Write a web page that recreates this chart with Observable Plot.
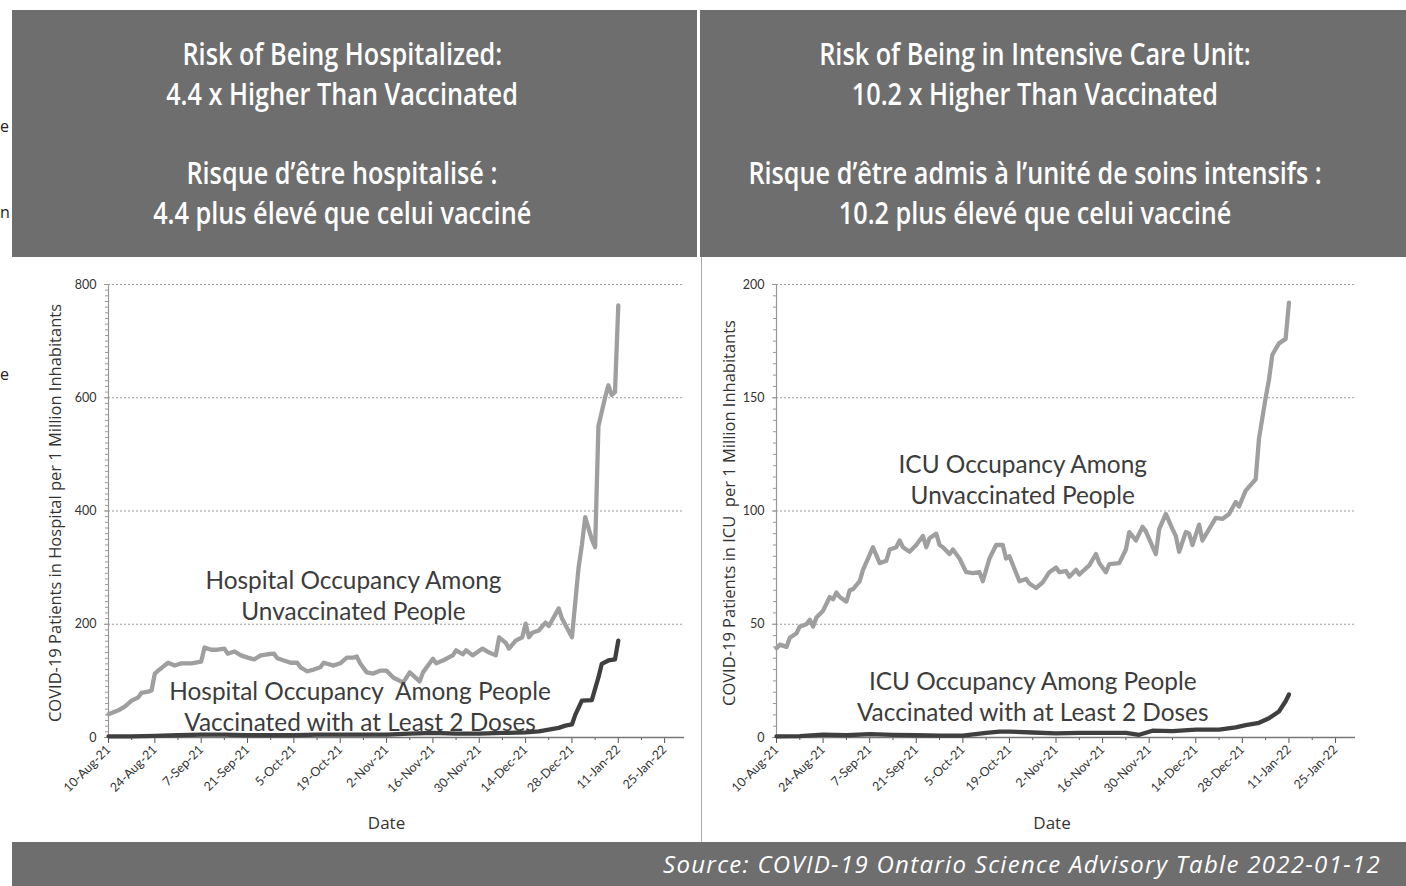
<!DOCTYPE html>
<html>
<head>
<meta charset="utf-8">
<script src="https://cdn.jsdelivr.net/npm/d3@7"></script>
<script src="https://cdn.jsdelivr.net/npm/@observablehq/plot@0.6"></script>
<style>
  html, body { margin: 0; padding: 0; background: #fff; }
  #page { position: relative; width: 1406px; height: 886px; overflow: hidden; background: #fff; }
  .hdr { position: absolute; background: #6e6e6e; color: #fff; display: flex; flex-direction: column; justify-content: center; align-items: center;
         font-family: "Open Sans", "Roboto", sans-serif; font-weight: 600; font-size: 31px; line-height: 39.7px; box-sizing: border-box; }
  .hdr div { white-space: nowrap; }
  .hdr span { display: inline-block; transform-origin: 50% 50%; }
  #footer { position: absolute; left: 12px; top: 842px; width: 1394px; height: 44px; background: #6e6e6e; color: #fff;
            font-family: "Open Sans", sans-serif; font-style: italic; font-size: 24px; letter-spacing: 1.3px; line-height: 44px; text-align: right; box-sizing: border-box; padding-right: 25px; white-space: nowrap; }
  .chart { position: absolute; top: 257px; }
  .stray { position: absolute; left: 0px; font-family: "Open Sans", sans-serif; font-size: 16px; color: #222; line-height: 20px; }
  #sep { position: absolute; left: 701px; top: 257px; width: 1px; height: 585px; background: #aaa; }
</style>
</head>
<body>
<div id="page">
  <div class="stray" style="top:116px">e</div>
  <div class="stray" style="top:202px">n</div>
  <div class="stray" style="top:364px">e</div>
  <div class="hdr" id="hdrL" style="left:12px; top:10px; width:685px; height:247px; padding-right:25px;"></div>
  <div class="hdr" id="hdrR" style="left:700px; top:10px; width:706px; height:247px; padding-right:36px;"></div>
  <div id="sep"></div>
  <div class="chart" id="chartL" style="left:0px;"></div>
  <div class="chart" id="chartR" style="left:700px;"></div>
  <div id="footer"></div>
</div>
<script>
// ---------- Text ----------
const headerLeft = ["Risk of Being Hospitalized:", "4.4 x Higher Than Vaccinated", "", "Risque d’être hospitalisé :", "4.4 plus élevé que celui vacciné"];
const headerRight = ["Risk of Being in Intensive Care Unit:", "10.2 x Higher Than Vaccinated", "", "Risque d’être admis à l’unité de soins intensifs :", "10.2 plus élevé que celui vacciné"];
const footerText = "Source: COVID-19 Ontario Science Advisory Table 2022-01-12";
const yLabelLeft = "COVID-19 Patients in Hospital per 1 Million Inhabitants";
const yLabelRight = "COVID-19 Patients in ICU  per 1 Million Inhabitants";
const xLabel = "Date";
const annLeftUnvax = "Hospital Occupancy Among\nUnvaccinated People";
const annLeftVax = "Hospital Occupancy  Among People\nVaccinated with at Least 2 Doses";
const annRightUnvax = "ICU Occupancy Among\nUnvaccinated People";
const annRightVax = "ICU Occupancy Among People\nVaccinated with at Least 2 Doses";

// ---------- Axis ticks ----------
const xDomain = ["2021-08-10", "2022-01-31"];
const xMajorTicks = ["2021-08-10","2021-08-24","2021-09-07","2021-09-21","2021-10-05","2021-10-19","2021-11-02","2021-11-16","2021-11-30","2021-12-14","2021-12-28","2022-01-11","2022-01-25"];
const xMinorTicks = ["2021-08-17","2021-08-31","2021-09-14","2021-09-28","2021-10-12","2021-10-26","2021-11-09","2021-11-23","2021-12-07","2021-12-21","2022-01-04","2022-01-18"];
const hospYTicks = [0, 200, 400, 600, 800];
const icuYTicks = [0, 50, 100, 150, 200];

// ---------- Hospital: unvaccinated ----------
const hospUnvaxDates = ["2021-08-10","2021-08-13","2021-08-15","2021-08-17","2021-08-19","2021-08-20","2021-08-22","2021-08-23","2021-08-24","2021-08-25","2021-08-28","2021-08-30","2021-09-01","2021-09-04","2021-09-07","2021-09-08","2021-09-10","2021-09-12","2021-09-14","2021-09-15","2021-09-17","2021-09-19","2021-09-21","2021-09-23","2021-09-25","2021-09-27","2021-09-29","2021-09-30","2021-10-02","2021-10-04","2021-10-06","2021-10-07","2021-10-09","2021-10-11","2021-10-13","2021-10-14","2021-10-17","2021-10-19","2021-10-21","2021-10-23","2021-10-24","2021-10-25","2021-10-27","2021-10-29","2021-10-31","2021-11-02","2021-11-04","2021-11-07","2021-11-09","2021-11-12","2021-11-13","2021-11-16","2021-11-17","2021-11-19","2021-11-22","2021-11-23","2021-11-25","2021-11-26","2021-11-28","2021-12-01","2021-12-03","2021-12-05","2021-12-06","2021-12-08","2021-12-09","2021-12-11","2021-12-13","2021-12-14","2021-12-15","2021-12-16","2021-12-18","2021-12-20","2021-12-21","2021-12-22","2021-12-24","2021-12-25","2021-12-28","2021-12-30","2021-12-31","2022-01-01","2022-01-03","2022-01-04","2022-01-05","2022-01-07","2022-01-08","2022-01-09","2022-01-10","2022-01-11"];
const hospUnvaxValues = [41,48,55,65,71,79,81,83,113,118,132,127,131,131,134,159,155,155,157,148,152,145,141,138,145,147,148,140,136,132,132,124,117,120,124,132,127,131,141,141,143,131,115,113,118,118,106,97,115,99,115,139,131,136,145,154,147,154,145,157,150,145,177,167,157,171,177,201,177,185,189,203,197,207,228,210,177,300,340,389,350,336,550,600,622,605,610,763];

// ---------- Hospital: vaccinated (2+ doses) ----------
const hospVaxDates = ["2021-08-10","2021-08-17","2021-08-24","2021-08-31","2021-09-07","2021-09-14","2021-09-21","2021-09-28","2021-10-05","2021-10-12","2021-10-19","2021-10-26","2021-11-02","2021-11-09","2021-11-16","2021-11-23","2021-11-30","2021-12-07","2021-12-14","2021-12-18","2021-12-21","2021-12-24","2021-12-26","2021-12-28","2021-12-29","2021-12-31","2022-01-03","2022-01-05","2022-01-06","2022-01-08","2022-01-10","2022-01-11"];
const hospVaxValues = [2,2,3,4,5,5,4,4,4,5,5,5,5,7,8,7,7,8,9,11,14,17,21,23,40,65,66,106,130,136,138,171];

// ---------- ICU: unvaccinated ----------
const icuUnvaxDates = ["2021-08-10","2021-08-11","2021-08-13","2021-08-14","2021-08-16","2021-08-17","2021-08-19","2021-08-20","2021-08-21","2021-08-22","2021-08-24","2021-08-26","2021-08-27","2021-08-28","2021-08-29","2021-08-31","2021-09-01","2021-09-02","2021-09-04","2021-09-05","2021-09-08","2021-09-10","2021-09-12","2021-09-13","2021-09-15","2021-09-16","2021-09-17","2021-09-19","2021-09-21","2021-09-23","2021-09-24","2021-09-25","2021-09-27","2021-09-28","2021-09-29","2021-10-01","2021-10-02","2021-10-04","2021-10-06","2021-10-08","2021-10-10","2021-10-11","2021-10-13","2021-10-15","2021-10-17","2021-10-18","2021-10-19","2021-10-22","2021-10-24","2021-10-25","2021-10-27","2021-10-29","2021-10-31","2021-11-02","2021-11-03","2021-11-05","2021-11-06","2021-11-08","2021-11-09","2021-11-12","2021-11-14","2021-11-15","2021-11-17","2021-11-18","2021-11-21","2021-11-23","2021-11-24","2021-11-26","2021-11-28","2021-11-29","2021-12-02","2021-12-03","2021-12-05","2021-12-07","2021-12-08","2021-12-09","2021-12-11","2021-12-12","2021-12-13","2021-12-15","2021-12-16","2021-12-18","2021-12-20","2021-12-22","2021-12-24","2021-12-26","2021-12-27","2021-12-29","2022-01-01","2022-01-02","2022-01-04","2022-01-05","2022-01-06","2022-01-08","2022-01-10","2022-01-11"];
const icuUnvaxValues = [39.4,41,40,44,46,49,50,52,49,53,56,62,61,64,62,60,65,65.5,69,74,84,77,78,83,84,87,84,82,85,89,84,88,90,85,84,81,83,79,73,72.6,73,69,79,85,85,79,80,69,70,68,66,68.5,73,75,73,73.5,71,74,72,76,81,77,73,76.5,77,83,90.7,87,93,91,81,92,98.7,92,89,82,90.7,90,85,94,87,92,97,96.5,98.7,104,102,109,114,132,150,158,169,174,176,192];

// ---------- ICU: vaccinated (2+ doses) ----------
const icuVaxDates = ["2021-08-10","2021-08-17","2021-08-24","2021-08-31","2021-09-07","2021-09-14","2021-09-21","2021-09-28","2021-10-05","2021-10-12","2021-10-16","2021-10-19","2021-10-26","2021-11-02","2021-11-09","2021-11-16","2021-11-23","2021-11-27","2021-12-01","2021-12-07","2021-12-14","2021-12-21","2021-12-26","2021-12-29","2022-01-02","2022-01-05","2022-01-08","2022-01-10","2022-01-11"];
const icuVaxValues = [0.5,0.6,1.3,1.0,1.5,1.2,1.0,0.8,0.8,2.0,2.6,2.6,2.2,1.8,2.0,2.0,2.0,1.2,3.0,2.8,3.5,3.5,4.5,5.5,6.5,8.5,11.5,16,19];

// ---------- Build page ----------
const hdrSpans = [];
function fillHeader(el, lines) {
  for (const l of lines) {
    const d = document.createElement("div");
    const s = document.createElement("span");
    s.textContent = l || "\u00a0";
    d.appendChild(s); el.appendChild(d);
    if (l) hdrSpans.push(s);
  }
}
fillHeader(document.getElementById("hdrL"), headerLeft);
fillHeader(document.getElementById("hdrR"), headerRight);
// condense the header face (the original uses a condensed typeface): one global factor
const measured = d3.sum(hdrSpans, s => s.getBoundingClientRect().width);
const k = 3124 / measured;
for (const s of hdrSpans) s.style.transform = `scaleX(${k})`;
document.getElementById("footer").textContent = footerText;

const D = s => new Date(s + "T00:00:00Z");
const series = (dates, values) => dates.map((d, i) => ({date: D(d), value: values[i]}));
const fmt = d3.utcFormat("%-d-%b-%y");

function makeChart(opts) {
  const {width, marginLeft, marginRight, yTicks, yMinorStep, unvax, vax, yLabel, annU, annV, ylabelDx, dateDx} = opts;
  const yMax = yTicks[yTicks.length - 1];
  const minor = d3.range(0, yMax + 1e-9, yMinorStep);
  const chartFont = "Lato, 'Open Sans', sans-serif";
  return Plot.plot({
    width, height: 585,
    marginLeft, marginRight, marginTop: 27, marginBottom: 105,
    x: {type: "utc", domain: xDomain.map(D)},
    y: {domain: [0, yMax]},
    style: {fontFamily: chartFont, background: "transparent", overflow: "visible", color: "#333"},
    marks: [
      Plot.ruleY(yTicks.filter(v => v > 0), {stroke: "#9a9a9a", strokeWidth: 1, strokeDasharray: "2,2"}),
      Plot.axisY({ticks: minor, tickSize: 3, text: null, stroke: "#999"}),
      Plot.axisY({ticks: yTicks, tickSize: 4, tickPadding: 8, fontSize: 12.5, label: null, stroke: "#999", fill: "#333"}),
      Plot.ruleX([D(xDomain[0])], {stroke: "#999", strokeWidth: 1.2}),
      Plot.axisX({ticks: xMinorTicks.map(D), tickSize: 3, text: null, stroke: "#555"}),
      Plot.axisX({ticks: xMajorTicks.map(D), tickSize: 6, tickRotate: -45, tickPadding: 4, tickFormat: fmt, fontSize: 12.5, label: null, stroke: "#555", fill: "#333"}),
      Plot.ruleY([0], {stroke: "#777", strokeWidth: 1.5}),
      Plot.line(unvax, {x: "date", y: "value", stroke: "#9f9f9f", strokeWidth: 4.3, strokeLinejoin: "round", strokeLinecap: "round"}),
      Plot.line(vax, {x: "date", y: "value", stroke: "#3f3f3f", strokeWidth: 4.3, strokeLinejoin: "round", strokeLinecap: "round"}),
      Plot.text([annU], {x: d => D(d.date), y: "y", text: "text", fontSize: 24.4, lineHeight: 1.27, fill: "#3c3c3c", fontFamily: chartFont}),
      Plot.text([annV], {x: d => D(d.date), y: "y", text: "text", fontSize: 24.4, lineHeight: 1.27, fill: "#3c3c3c", fontFamily: chartFont}),
      Plot.text([yLabel], {frameAnchor: "left", textAnchor: "middle", rotate: -90, dx: ylabelDx, dy: 2, text: d => d, fontSize: 16.5, fill: "#333", fontFamily: "'Open Sans', sans-serif"}),
      Plot.text([xLabel], {frameAnchor: "bottom", dy: 91, dx: dateDx, text: d => d, fontSize: 17, fill: "#333", fontFamily: "'Open Sans', sans-serif"})
    ]
  });
}

document.getElementById("chartL").appendChild(makeChart({
  width: 700, marginLeft: 108, marginRight: 16,
  yTicks: hospYTicks, yMinorStep: 10,
  unvax: series(hospUnvaxDates, hospUnvaxValues),
  vax: series(hospVaxDates, hospVaxValues),
  yLabel: yLabelLeft,
  annU: {date: "2021-10-23", y: 252, text: annLeftUnvax},
  annV: {date: "2021-10-25", y: 57, text: annLeftVax},
  ylabelDx: -53, dateDx: -10
}));

document.getElementById("chartR").appendChild(makeChart({
  width: 706, marginLeft: 76, marginRight: 51,
  yTicks: icuYTicks, yMinorStep: 5,
  unvax: series(icuUnvaxDates, icuUnvaxValues),
  vax: series(icuVaxDates, icuVaxValues),
  yLabel: yLabelRight,
  annU: {date: "2021-10-23", y: 114.4, text: annRightUnvax},
  annV: {date: "2021-10-26", y: 18.4, text: annRightVax},
  ylabelDx: -47, dateDx: -14
}));
</script>
</body>
</html>
